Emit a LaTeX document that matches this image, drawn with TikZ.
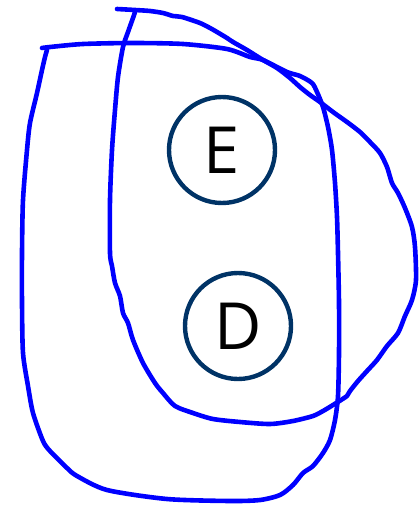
\documentclass[tikz,border=0pt]{standalone}
\usepackage{fontspec}
\setmainfont{Open Sans}
\begin{document}
\begin{tikzpicture}[x=1pt,y=-1pt,
  loop/.style={draw={rgb,255:red,0;green,0;blue,255},line width=4.6pt,line cap=round,line join=round},
  circ/.style={circle,draw={rgb,255:red,0;green,51;blue,102},line width=4.4pt,minimum size=106pt,inner sep=0pt,font=\fontsize{65}{65}\selectfont,fill=white}]
\useasboundingbox (0,0) rectangle (419,506);
\draw[loop] plot[smooth,tension=0.45] coordinates {
 (117,9) (135,10) (150,11) (163,13) (173,16) (182,17) (200,23) (210,28) (217,32) (227,38) (233,42) (247,50) (263,60) (277,68) (290,78) (300,87) (310,95) (320,102) (333,112) (347,122) (360,132) (370,142) (380,153) (387,167) (392,183) (398,193) (405,208) (412,227) (415,247) (416,280) (412,300) (405,316) (398,333) (387,346) (377,360) (367,371) (358,381) (350,391) (347,396) (333,405) (323,411) (313,416) (293,421) (270,424) (240,422) (213,419) (193,413) (175,406) (163,393) (155,383) (143,363) (133,340) (128,323) (123,313) (120,296) (115,283) (112,266) (110,253) (110,200) (112,150) (115,110) (118,77) (123,47) (128,32) (133,18) (135,12)};
\draw[loop] plot[smooth,tension=0.45] coordinates {
 (42,48) (50,47) (83,44) (133,43) (183,44) (227,49) (250,57) (263,60) (287,72) (300,76) (312,83) (317,92) (323,107) (328,127) (332,150) (335,183) (337,217) (338,253) (339,303) (339,353) (338,396) (335,420) (330,440) (323,453) (313,466) (303,473) (293,485) (280,495) (260,500) (230,501) (167,499) (107,490) (77,476) (67,468) (50,451) (43,441) (33,413) (28,386) (23,353) (22,303) (22,253) (23,200) (27,150) (30,123) (37,93) (42,70) (45,57) (47,50)};
\node[circ] (E) at (222,150) {E};
\node[circ] (D) at (238,326) {D};
\end{tikzpicture}
\end{document}
